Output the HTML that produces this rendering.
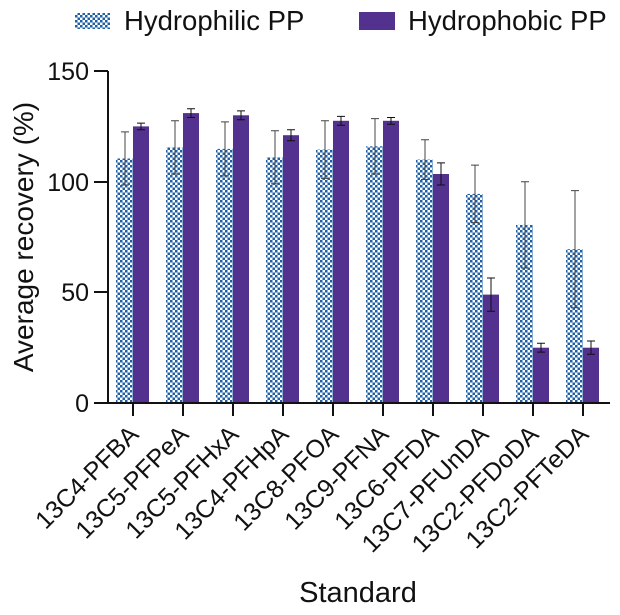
<!DOCTYPE html>
<html><head><style>html,body{margin:0;padding:0;background:#fff}svg{display:block}text{font-family:"Liberation Sans",sans-serif;fill:#111}</style></head>
<body>
<svg width="620" height="615" viewBox="0 0 620 615">
<defs>
<pattern id="chk" width="5" height="5" patternUnits="userSpaceOnUse">
<rect width="5" height="5" fill="#ffffff"/>
<rect width="2.5" height="2.5" fill="#1f5fa6"/>
<rect x="2.5" y="2.5" width="2.5" height="2.5" fill="#1f5fa6"/>
</pattern>
</defs>
<rect x="75" y="13" width="35" height="16" fill="url(#chk)"/>
<text x="124" y="30" font-size="27.5">Hydrophilic PP</text>
<rect x="359" y="12" width="36" height="18" fill="#52318f"/>
<text x="408" y="30" font-size="27.5">Hydrophobic PP</text>

<g fill="url(#chk)">
<rect x="116" y="158.5" width="17" height="244.5"/>
<rect x="166" y="147.4" width="17" height="255.6"/>
<rect x="216" y="148.9" width="17" height="254.1"/>
<rect x="266" y="157.4" width="17" height="245.6"/>
<rect x="316" y="149.6" width="17" height="253.4"/>
<rect x="366" y="146.3" width="17" height="256.7"/>
<rect x="416" y="159.6" width="17" height="243.4"/>
<rect x="466" y="193.9" width="17" height="209.1"/>
<rect x="516" y="224.9" width="17" height="178.1"/>
<rect x="566" y="249.2" width="17" height="153.8"/>
</g>
<g fill="#52318f">
<rect x="133" y="126.4" width="16" height="276.6"/>
<rect x="183" y="113.1" width="16" height="289.9"/>
<rect x="233" y="115.3" width="16" height="287.7"/>
<rect x="283" y="135.2" width="16" height="267.8"/>
<rect x="333" y="120.8" width="16" height="282.2"/>
<rect x="383" y="120.8" width="16" height="282.2"/>
<rect x="433" y="174.0" width="16" height="229.0"/>
<rect x="483" y="294.6" width="16" height="108.4"/>
<rect x="533" y="347.7" width="16" height="55.3"/>
<rect x="583" y="347.7" width="16" height="55.3"/>
</g>
<g stroke="#444" stroke-width="1" fill="none">
<path d="M125 131.9V185M121 131.9h8M121 185h8"/>
<path d="M175 120.8V174M171 120.8h8M171 174h8"/>
<path d="M225 121.9V175.9M221 121.9h8M221 175.9h8"/>
<path d="M275 130.8V183.9M271 130.8h8M271 183.9h8"/>
<path d="M325 120.8V178.4M321 120.8h8M321 178.4h8"/>
<path d="M375 118.6V174M371 118.6h8M371 174h8"/>
<path d="M425 139.7V179.5M421 139.7h8M421 179.5h8"/>
<path d="M475 165.1V222.6M471 165.1h8M471 222.6h8"/>
<path d="M525 181.7V268M521 181.7h8M521 268h8"/>
<path d="M575 190.6V307.8M571 190.6h8M571 307.8h8"/>
</g>
<g stroke="#111" stroke-width="1" fill="none">
<path d="M141 123.1V129.7M137 123.1h8M137 129.7h8"/>
<path d="M191 108.7V117.5M187 108.7h8M187 117.5h8"/>
<path d="M241 110.9V119.7M237 110.9h8M237 119.7h8"/>
<path d="M291 129.7V140.8M287 129.7h8M287 140.8h8"/>
<path d="M341 116.4V125.3M337 116.4h8M337 125.3h8"/>
<path d="M391 117.5V124.2M387 117.5h8M387 124.2h8"/>
<path d="M441 162.9V185M437 162.9h8M437 185h8"/>
<path d="M491 278V311.2M487 278h8M487 311.2h8"/>
<path d="M541 343.2V352.1M537 343.2h8M537 352.1h8"/>
<path d="M591 341V354.3M587 341h8M587 354.3h8"/>
</g>
<g stroke="#111" stroke-width="2" fill="none">
<line x1="108" y1="71" x2="108" y2="404"/>
<line x1="94" y1="403" x2="610" y2="403"/>
<line x1="94" y1="71" x2="108" y2="71"/>
<line x1="94" y1="182" x2="108" y2="182"/>
<line x1="94" y1="292" x2="108" y2="292"/>
<path d="M133 403v13M183 403v13M233 403v13M283 403v13M333 403v13M383 403v13M433 403v13M483 403v13M533 403v13M583 403v13"/>
</g>
<g font-size="25" text-anchor="end">
<text x="89" y="80">150</text>
<text x="89" y="191">100</text>
<text x="89" y="301">50</text>
<text x="89" y="412">0</text>
</g>
<text transform="translate(33,237) rotate(-90)" font-size="28" text-anchor="middle">Average recovery (%)</text>
<text x="358" y="602" font-size="29" text-anchor="middle">Standard</text>
<g font-size="25" text-anchor="end">
<text transform="translate(140,436) rotate(-45)">13C4-PFBA</text>
<text transform="translate(190,436) rotate(-45)">13C5-PFPeA</text>
<text transform="translate(240,436) rotate(-45)">13C5-PFHxA</text>
<text transform="translate(290,436) rotate(-45)">13C4-PFHpA</text>
<text transform="translate(340,436) rotate(-45)">13C8-PFOA</text>
<text transform="translate(390,436) rotate(-45)">13C9-PFNA</text>
<text transform="translate(440,436) rotate(-45)">13C6-PFDA</text>
<text transform="translate(490,436) rotate(-45)">13C7-PFUnDA</text>
<text transform="translate(540,436) rotate(-45)">13C2-PFDoDA</text>
<text transform="translate(590,436) rotate(-45)">13C2-PFTeDA</text>
</g>
</svg>
</body></html>
